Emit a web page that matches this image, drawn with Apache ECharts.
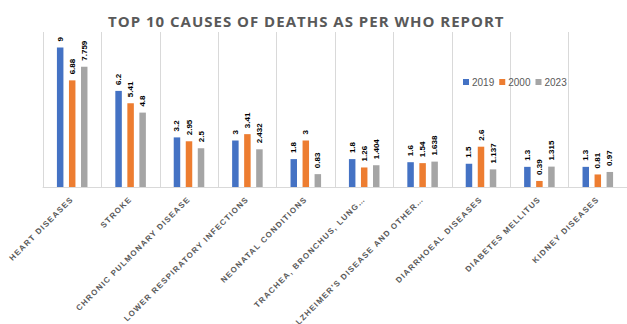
<!DOCTYPE html>
<html><head><meta charset="utf-8">
<script src="https://cdn.jsdelivr.net/npm/echarts@6/dist/echarts.min.js"></script>
<style>html,body{margin:0;padding:0;background:#fff}#c{width:627px;height:324px}</style>
</head><body><div id="c"></div>
<script>
const categories = ["HEART DISEASES","STROKE","CHRONIC PULMONARY DISEASE","LOWER RESPIRATORY INFECTIONS","NEONATAL CONDITIONS","TRACHEA, BRONCHUS, LUNG…","ALZHEIMER'S DISEASE AND OTHER…","DIARRHOEAL DISEASES","DIABETES MELLITUS","KIDNEY DISEASES"];
const seriesNames = ["2019","2000","2023"];
const v2019 = [9, 6.2, 3.2, 3, 1.8, 1.8, 1.6, 1.5, 1.3, 1.3];
const v2000 = [6.88, 5.41, 2.95, 3.41, 3, 1.26, 1.54, 2.6, 0.39, 0.81];
const v2023 = [7.759, 4.8, 2.5, 2.432, 0.83, 1.404, 1.638, 1.137, 1.315, 0.97];
const titleText = 'TOP 10 CAUSES OF DEATHS AS PER WHO REPORT';
const colors = ["#4472C4","#ED7D31","#A5A5A5"];
const chart = echarts.init(document.getElementById('c'), null, {renderer:'svg'});
const mk = (name, data, i) => ({
  name, type:'bar', data, barWidth:6.5, barGap:'85%',
  itemStyle:{color:colors[i]},
  label:{show:true, position:'top', rotate:90, align:'left', verticalAlign:'middle', distance:6,
    fontFamily:'Liberation Sans', fontWeight:'bold', fontSize:8, color:'#000',
    formatter: p => String(p.value)}
});
chart.setOption({
  animation:false,
  title:{text:titleText, left:103, top:8,
    textStyle:{fontFamily:'Open Sans', fontWeight:'bold', fontSize:15, color:'#595959'}},
  legend:{data:seriesNames, left:458, top:72, itemWidth:6, itemHeight:6, itemGap:5,
    icon:'rect', textStyle:{fontFamily:'Liberation Sans', fontSize:10, color:'#595959', padding:[0,0,0,-2]}},
  grid:{left:43, right:0, top:32, bottom:137, containLabel:false},
  xAxis:{type:'category', data:categories,
    axisLine:{lineStyle:{color:'#D9D9D9'}}, axisTick:{show:false},
    splitLine:{show:true, interval:0, lineStyle:{color:'#D9D9D9'}},
    axisLabel:{interval:0, rotate:45, margin:11, color:'#595959',
      fontFamily:'Liberation Sans', fontWeight:'bold', fontSize:8}},
  yAxis:{type:'value', min:0, max:10, show:false, splitLine:{show:false}},
  series:[mk(seriesNames[0], v2019, 0), mk(seriesNames[1], v2000, 1), mk(seriesNames[2], v2023, 2)]
});
document.querySelectorAll('#c svg text').forEach(t => {
  const s = t.textContent;
  if (categories.includes(s)) t.style.letterSpacing = '1.2px';
  else if (s === titleText) t.style.letterSpacing = '1px';
});
</script></body></html>
